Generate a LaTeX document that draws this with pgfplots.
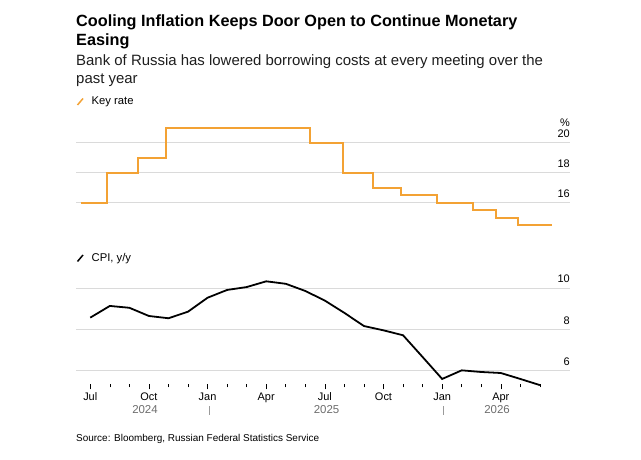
\documentclass[border=0pt]{standalone}
\usepackage{pgfplots}
\pgfplotsset{compat=1.18}
\usepackage{fontspec}
\setmainfont{Liberation Sans}
\definecolor{kr}{RGB}{243,162,52}
\definecolor{gridc}{RGB}{218,218,218}
\definecolor{yrc}{RGB}{110,110,110}
\definecolor{subc}{RGB}{30,30,30}
\pgfplotstableread{
m r
-0.48 16
0.84 18
2.46 19
3.86 21
11.24 20
12.91 18
14.48 17
15.88 16.5
17.72 16
19.59 15.5
20.74 15
21.89 14.5
23.63 14.5
}\keyrate
\pgfplotstableread{
m c
0 8.57
1 9.14
2 9.05
3 8.65
4 8.54
5 8.86
6 9.54
7 9.92
8 10.06
9 10.34
10 10.22
11 9.87
12 9.40
13 8.80
14 8.16
15 7.95
16 7.71
17 6.65
18 5.58
19 6.00
20 5.92
21 5.87
22 5.58
23 5.28
}\cpi
\begin{document}
\begin{tikzpicture}[x=1bp,y=1bp]
\path[fill=white] (0,0) rectangle (641,460);
% titles
\node[anchor=base west, inner sep=0, font=\bfseries\fontsize{16.3}{19}\selectfont] at (76,433.3) {Cooling Inflation Keeps Door Open to Continue Monetary};
\node[anchor=base west, inner sep=0, font=\bfseries\fontsize{16.3}{19}\selectfont] at (76,414.3) {Easing};
\node[anchor=base west, inner sep=0, text=subc, font=\fontsize{15}{17}\selectfont] at (76,394.3) {Bank of Russia has lowered borrowing costs at every meeting over the};
\node[anchor=base west, inner sep=0, text=subc, font=\fontsize{15}{17}\selectfont] at (76,376) {past year};
% legend 1
\draw[kr, line width=1.5] (77.5,355) -- (83,361.5);
\node[anchor=base west, inner sep=0, font=\fontsize{11.3}{13}\selectfont] at (91.5,355) {Key rate};
% legend 2
\draw[black, line width=1.5] (77.5,198.5) -- (83,205);
\node[anchor=base west, inner sep=0, font=\fontsize{11.3}{13}\selectfont] at (91.5,198.5) {CPI, y/y};
% top axis
\begin{axis}[
  at={(76bp,227.3bp)}, anchor=south west,
  scale only axis, width=494bp, height=112.5bp,
  xmin=-0.73, xmax=24.54, ymin=14, ymax=21.5,
  axis line style={draw=none},
  xtick=\empty,
  ytick={16,18,20},
  ytick style={draw=none},
  ymajorgrids, major grid style={gridc, line width=0.8},
  yticklabel pos=right,
  /pgf/number format/assume math mode=true,
  yticklabel style={anchor=south east, inner sep=0pt, xshift=0bp, yshift=5bp, font=\fontsize{11}{13}\selectfont},
  clip=false,
]
\addplot[const plot, kr, line width=1.8] table[x=m, y=r] {\keyrate};
\end{axis}
\node[anchor=south east, inner sep=0, font=\fontsize{11}{13}\selectfont] at (570,333) {\%};
% bottom axis
\begin{axis}[
  at={(76bp,75.5bp)}, anchor=south west,
  scale only axis, width=494bp, height=108.5bp,
  xmin=-0.73, xmax=24.54, ymin=5.31, ymax=10.6,
  axis line style={draw=none},
  xtick={0,3,...,21},
  xticklabels={Jul,Oct,Jan,Apr,Jul,Oct,Jan,Apr},
  minor xtick={0,...,23},
  xtick pos=left, xtick align=outside,
  major tick length=5bp, minor tick length=3bp,
  xtick style={black, line width=0.6},
  xticklabel style={font=\fontsize{11}{12}\selectfont, yshift=0bp},
  ytick={6,8,10},
  ytick style={draw=none},
  ymajorgrids, major grid style={gridc, line width=0.8},
  yticklabel pos=right,
  /pgf/number format/assume math mode=true,
  yticklabel style={anchor=south east, inner sep=0pt, xshift=0bp, yshift=5bp, font=\fontsize{11}{13}\selectfont},
  clip=false,
]
\addplot[black, line width=1.8] table[x=m, y=c] {\cpi};
\end{axis}
% year labels
\node[anchor=base, inner sep=0, text=yrc, font=\fontsize{11.5}{12}\selectfont] at (145,46) {2024};
\node[anchor=base, inner sep=0, text=yrc, font=\fontsize{11.5}{12}\selectfont] at (326.5,46) {2025};
\node[anchor=base, inner sep=0, text=yrc, font=\fontsize{11.5}{12}\selectfont] at (497,46) {2026};
\draw[yrc!70, line width=0.8] (209,45) -- (209,53.5);
\draw[yrc!70, line width=0.8] (443.7,45) -- (443.7,53.5);
% source
\node[anchor=base west, inner sep=0, font=\fontsize{10}{11}\selectfont] at (76,18) {Source: Bloomberg, Russian Federal Statistics Service};
\end{tikzpicture}
\end{document}
